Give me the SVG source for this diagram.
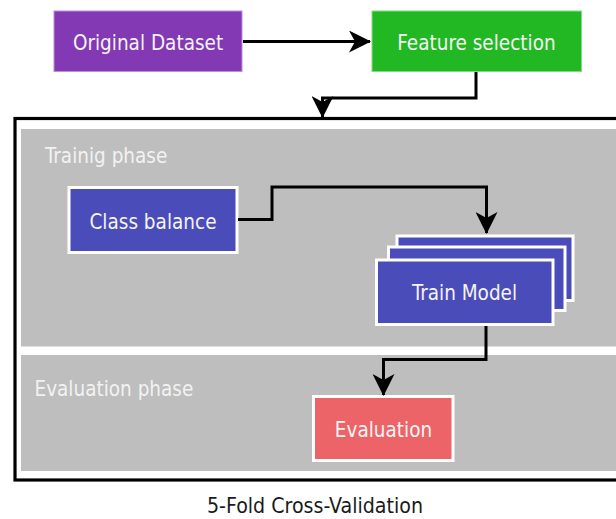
<svg xmlns="http://www.w3.org/2000/svg" width="616" height="519" viewBox="0 0 616 519">
<style>
text{font-family:"DejaVu Sans Condensed","DejaVu Sans",sans-serif;font-stretch:condensed;font-size:20.5px}
.lbl{fill:#f4f4f4;text-anchor:middle}
.phase{fill:#f2f2f2}
.phasebg{fill:#bebebe}
.blue{fill:#4a4cb9;stroke:#ffffff;stroke-width:3}
.edge{fill:none;stroke:#000;stroke-width:3}
.cap{fill:#1a1a1a;text-anchor:middle;font-size:21.2px}
</style>
<defs>
<marker id="arr" markerUnits="userSpaceOnUse" viewBox="0 0 22 22" refX="21" refY="11" markerWidth="22" markerHeight="22" orient="auto">
<path d="M0,0 L22,11 L0,22 L6,11 Z" fill="#000"/>
</marker>
</defs>
<rect width="616" height="519" fill="#ffffff"/>
<g id="cv-frame">
<rect x="15" y="118.5" width="610" height="361.5" fill="#ffffff" stroke="#000" stroke-width="3.2"/>
</g>
<g id="training-phase">
<rect class="phasebg" x="21" y="129" width="600" height="217.5"/>
<text class="phase" x="45" y="163">Trainig phase</text>
</g>
<g id="evaluation-phase">
<rect class="phasebg" x="21" y="355" width="600" height="116"/>
<text class="phase" x="34.5" y="396">Evaluation phase</text>
</g>
<g id="original-dataset">
<rect x="54" y="11" width="188" height="60.5" fill="#8338b4" stroke="#b88fdc" stroke-width="1"/>
<text class="lbl" x="148" y="49.5">Original Dataset</text>
</g>
<g id="feature-selection">
<rect x="372" y="11" width="209.5" height="60.5" fill="#22b823" stroke="#7fdc7f" stroke-width="1"/>
<text class="lbl" x="476.5" y="49.5">Feature selection</text>
</g>
<g id="class-balance">
<rect class="blue" x="69" y="187.5" width="168" height="65"/>
<text class="lbl" x="153" y="229">Class balance</text>
</g>
<g id="train-model">
<rect class="blue" x="397" y="236" width="176" height="64.5"/>
<rect class="blue" x="388.5" y="247" width="176.5" height="63.5"/>
<rect class="blue" x="376.5" y="260" width="176.5" height="64.5"/>
<text class="lbl" x="464.5" y="300">Train Model</text>
</g>
<g id="evaluation">
<rect x="313.5" y="396.5" width="139.5" height="64" fill="#ec6468" stroke="#ffffff" stroke-width="3"/>
<text class="lbl" x="383.5" y="437">Evaluation</text>
</g>
<g id="caption">
<text class="cap" x="315" y="513">5-Fold Cross-Validation</text>
</g>
<g id="connectors">
<path class="edge" d="M243,41.5 L370,41.5" marker-end="url(#arr)"/>
<path class="edge" d="M476,72 L476,98 L322.5,98 L322.5,117" marker-end="url(#arr)"/>
<path class="edge" d="M238,219.5 L272,219.5 L272,187 L486.5,187 L486.5,233" marker-end="url(#arr)"/>
<path class="edge" d="M486,326 L486,359.5 L383.5,359.5 L383.5,395" marker-end="url(#arr)"/>
</g>
</svg>
